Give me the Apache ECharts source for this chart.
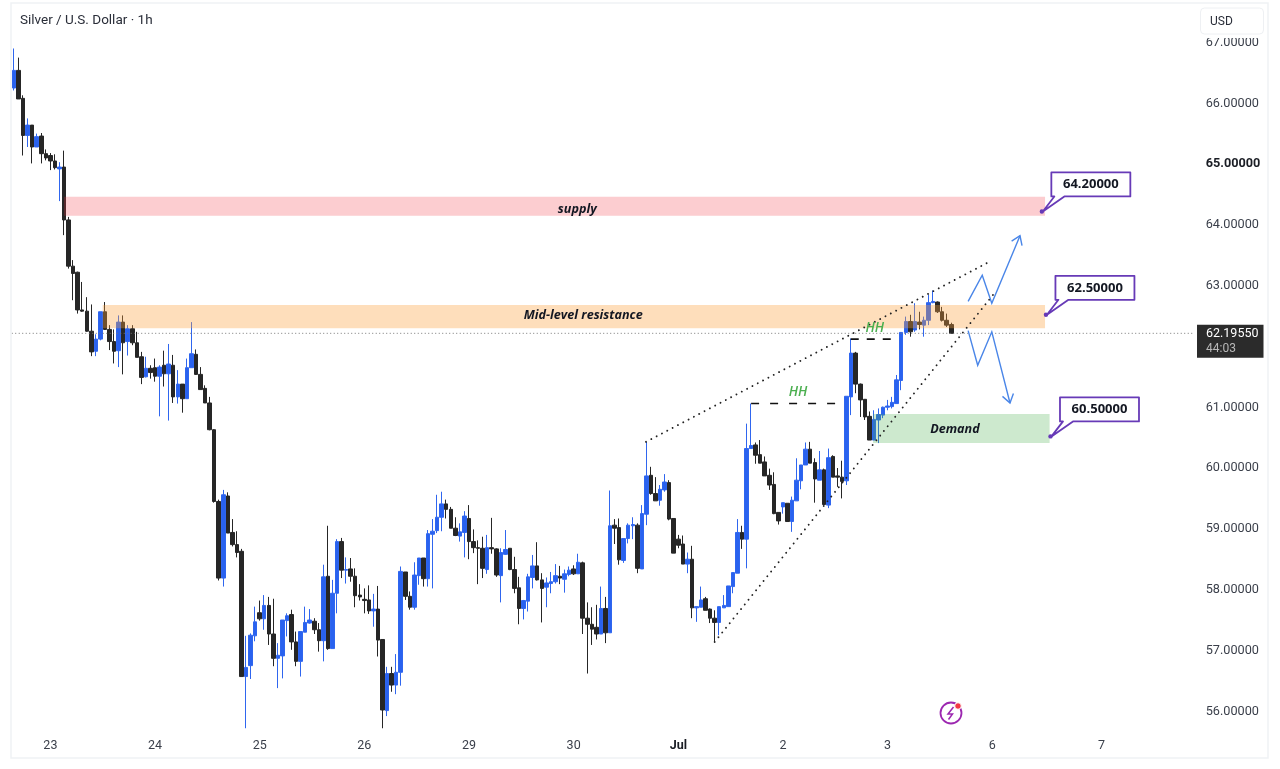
<!DOCTYPE html>
<html><head><meta charset="utf-8">
<style>html,body{margin:0;padding:0;background:#fff}#c{width:1280px;height:769px}</style>
<script src="https://cdn.jsdelivr.net/npm/echarts@6/dist/echarts.min.js"></script>
</head><body><div id="c"></div>
<script>
const opens=[66.23,66.52,66.06,65.45,65.62,65.26,65.44,65.15,65.12,65.03,
64.90,64.93,64.06,63.30,63.20,62.58,62.56,62.23,61.90,62.10,
62.55,62.26,62.06,61.91,62.38,62.06,62.27,62.04,61.81,61.48,
61.62,61.63,61.49,61.67,61.53,61.67,61.15,61.36,61.12,61.63,
61.85,61.52,61.29,61.05,60.61,59.43,58.17,59.52,58.92,58.72,
58.61,56.55,56.73,57.22,57.60,57.50,57.72,57.25,56.85,56.89,
57.47,57.57,57.12,56.80,57.28,57.43,57.46,57.32,57.14,58.20,
57.01,57.92,58.77,58.30,58.32,58.20,57.89,57.82,57.81,57.63,
57.66,57.16,55.99,56.60,56.41,56.62,58.27,57.87,57.69,58.21,
58.50,58.16,58.89,58.95,59.17,59.39,59.30,58.99,58.86,58.92,
59.15,58.77,58.67,58.66,58.31,58.67,58.65,58.21,58.56,58.66,
58.31,58.01,57.67,57.79,58.18,58.37,58.14,58.02,58.08,58.11,
58.20,58.15,58.23,58.32,58.24,58.42,57.51,57.41,57.36,57.25,
57.67,57.27,59.04,59.00,58.46,58.82,59.03,59.04,58.32,59.22,
59.86,59.56,59.45,59.62,59.74,59.15,58.81,58.73,58.40,58.48,
57.68,57.69,57.83,57.66,57.51,57.44,57.68,57.70,58.03,58.25,
58.92,58.81,60.30,60.36,60.20,60.08,59.86,59.71,59.25,59.34,
59.40,59.10,59.44,59.77,60.03,60.29,60.07,59.78,59.95,59.37,
60.17,59.85,59.83,59.77,61.15,61.87,61.36,61.11,60.83,60.44,
60.77,60.85,60.98,60.99,61.04,61.42,62.21,62.39,62.25,62.38,
62.33,62.41,62.70,62.71,62.55,62.41,62.34];
const closes=[66.52,66.05,65.45,65.62,65.26,65.43,65.15,65.08,65.03,64.92,
64.93,64.06,63.30,63.18,62.58,62.56,62.23,61.89,62.10,62.55,
62.26,62.06,61.90,62.38,62.04,62.27,62.04,61.80,61.47,61.62,
61.55,61.49,61.64,61.53,61.69,61.15,61.36,61.12,61.63,61.86,
61.52,61.27,61.05,60.61,59.43,58.17,59.54,58.91,58.72,58.59,
56.55,56.70,57.23,57.45,57.50,57.72,57.25,56.85,56.90,57.48,
57.55,57.12,56.80,57.29,57.44,57.48,57.32,57.14,58.19,57.01,
57.92,58.77,58.30,58.31,58.20,57.88,57.86,57.80,57.63,57.66,
57.15,56.00,56.60,56.41,56.62,58.28,57.87,57.69,58.22,58.50,
58.16,58.90,58.94,59.17,59.39,59.30,58.99,58.87,58.93,59.19,
58.77,58.67,58.66,58.33,58.67,58.65,58.22,58.59,58.64,58.31,
58.00,57.67,57.80,58.19,58.37,58.14,58.00,58.09,58.11,58.21,
58.17,58.24,58.30,58.24,58.43,57.51,57.41,57.33,57.25,57.67,
57.27,59.03,58.99,58.47,58.82,59.04,59.05,58.33,59.23,59.85,
59.56,59.44,59.63,59.75,59.14,58.58,58.71,58.40,58.48,57.68,
57.70,57.81,57.64,57.51,57.44,57.70,57.72,58.04,58.26,58.92,
58.81,60.30,60.35,60.19,60.06,59.85,59.70,59.23,59.11,59.41,
59.10,59.45,59.78,60.03,60.29,60.06,59.80,59.95,59.38,60.15,
59.83,59.83,59.76,61.16,61.87,61.36,61.10,60.82,60.44,60.78,
60.86,60.98,61.00,61.06,61.43,62.21,62.39,62.22,62.39,62.34,
62.41,62.70,62.72,62.55,62.41,62.33,62.1955];
const lows=[66.19,66.05,65.12,65.26,64.99,65.26,64.99,65.04,64.88,64.89,
64.37,63.81,63.26,62.74,62.52,62.55,62.22,61.82,61.82,62.08,
62.25,61.92,61.70,61.64,61.52,61.83,62.00,61.80,61.36,61.47,
61.45,61.40,60.83,61.32,60.76,61.05,61.04,60.89,61.12,61.63,
61.51,61.27,61.05,60.60,59.41,58.13,58.03,58.91,58.69,58.51,
56.55,55.70,56.51,57.13,57.47,57.32,57.07,56.72,56.36,56.52,
57.21,56.99,56.72,56.55,57.28,57.42,57.25,56.96,56.80,56.99,
57.01,57.59,58.17,58.08,58.11,57.69,57.80,57.59,57.58,57.37,
56.88,55.70,55.90,56.30,56.26,56.40,57.81,57.65,57.65,58.06,
58.03,58.03,58.00,58.91,58.94,59.15,58.99,58.86,58.77,58.51,
58.48,58.58,58.07,58.17,58.24,58.57,58.19,57.77,58.55,58.30,
57.92,57.41,57.49,57.62,58.00,58.13,57.44,57.69,57.92,58.08,
58.07,57.93,58.20,58.22,58.24,57.25,56.60,57.07,57.16,57.25,
57.10,57.27,58.73,58.39,58.42,58.74,58.81,58.25,58.32,59.04,
59.54,59.44,59.36,59.59,59.12,58.58,58.66,58.40,58.25,57.51,
57.45,57.69,57.64,57.43,57.12,57.23,57.68,57.70,57.92,58.25,
58.65,58.33,60.30,60.05,60.06,59.85,59.62,59.22,59.05,59.23,
59.10,58.93,59.44,59.63,60.03,60.06,59.41,59.78,59.38,59.32,
59.83,59.67,59.48,59.70,60.85,61.21,60.82,60.77,60.44,60.44,
60.39,60.80,60.93,60.96,61.04,61.26,62.17,62.14,62.22,62.26,
62.14,62.33,62.69,62.53,62.39,62.30,62.1955];
const highs=[66.88,66.73,66.11,65.73,65.62,65.48,65.49,65.22,65.16,65.14,
65.01,65.20,64.11,63.40,63.21,63.04,62.79,62.67,62.18,62.55,
62.71,62.33,62.26,62.49,62.49,62.33,62.33,62.22,61.89,61.81,
61.67,61.78,61.67,61.91,62.02,61.84,61.59,61.36,61.78,62.38,
61.93,61.64,61.34,61.15,60.62,59.46,59.62,59.58,59.14,58.94,
58.65,57.22,57.26,57.70,57.80,57.89,57.86,57.83,57.10,57.48,
57.59,57.65,57.29,57.29,57.70,57.66,57.51,57.43,58.39,59.03,
58.14,58.81,58.83,58.51,58.50,58.33,58.07,58.00,58.05,57.91,
58.04,57.16,56.71,56.71,56.92,58.36,58.27,57.95,58.43,58.50,
58.50,58.96,59.14,59.54,59.59,59.46,59.34,59.17,59.07,59.27,
59.37,58.97,58.79,58.85,58.88,59.16,58.66,58.66,58.96,58.66,
58.52,58.19,57.81,58.24,58.55,58.76,58.25,58.18,58.27,58.40,
58.37,58.31,58.36,58.38,58.57,58.44,57.77,57.69,57.73,58.03,
57.86,59.61,59.14,59.15,58.82,59.07,59.17,59.07,59.37,60.41,
60.00,59.83,59.70,59.88,59.78,59.15,58.88,58.87,58.59,58.70,
57.70,58.03,57.86,57.67,57.64,57.70,57.89,58.04,58.26,59.14,
59.03,60.71,61.04,60.40,60.44,60.17,59.97,59.91,59.25,59.41,
59.40,59.51,60.14,60.03,60.40,60.41,60.14,60.26,59.97,60.30,
60.19,59.98,60.10,61.16,62.11,61.89,61.37,61.11,60.91,60.93,
60.96,60.99,61.10,61.15,61.51,62.21,62.47,62.50,62.69,62.55,
62.47,62.83,62.90,62.72,62.63,62.52,62.37];

const barSlots=260;
const dayLabels=['23','24','25','26','29','30','Jul','2','3','6','7'];
const dayIndexes=[8,31,54,77,100,123,146,169,192,215,239];
const lastPrice=62.1955, lastPriceText='62.19550', countdown='44:03';

const bandNames=['supply','Mid-level resistance','Demand'];
const bandStart=[11,19.5,188.8];
const bandEnd=[226.6,226.6,227.6];
const bandTop=[64.44,62.66,60.87];
const bandBottom=[64.13,62.28,60.39];
const bandFill=['rgba(242,54,69,.25)','rgba(251,160,60,.35)','rgba(76,175,80,.28)'];
const bandLabelAt=[123.8,125.1,206.8];
const bandLabelPrice=[64.24,62.49,60.61];

const wedgeUpperX=[138.9,213.8], wedgeUpperY=[60.41,63.35];
const wedgeLowerX=[154,215.2], wedgeLowerY=[57.12,62.83];
const hhLineX=[[162,182.6],[183.9,194.3]], hhLineY=[61.04,62.10];
const hhLabelX=[172.3,189.2], hhLabelY=[61.23,62.28];
const arrowUpX=[209.7,212.8,214.9,221.1], arrowUpY=[62.72,63.15,62.69,63.80];
const arrowDownX=[209.7,211.8,214.9,218.9], arrowDownY=[62.24,61.67,62.22,61.05];
const calloutX=[225.9,226.8,227.8], calloutY=[64.2,62.5,60.5];
const calloutText=['64.20000','62.50000','60.50000'];

const categories=Array.from({length:barSlots},(_,i)=>{const k=dayIndexes.indexOf(i);return k<0?'':dayLabels[k];});
const candles=opens.map((o,i)=>[o,closes[i],lows[i],highs[i]]);
const UI='Roboto, "Noto Sans", sans-serif';

function layer(items,draw,z){
  return {type:'custom',coordinateSystem:'cartesian2d',xAxisIndex:1,yAxisIndex:0,silent:true,clip:false,z:z||5,
    encode:{x:0,y:1},data:items.map(it=>[it.x,it.y]),animation:false,
    renderItem:(p,api)=>draw(items[p.dataIndex],api)};
}
function pts(xs,ys,api){return xs.map((x,i)=>api.coord([x,Array.isArray(ys)?ys[i]:ys]));}
function poly(points,style){return {type:'polyline',shape:{points},style:Object.assign({fill:null},style)};}

const bandItems=bandNames.map((n,i)=>({x:bandStart[i],y:bandTop[i],i}));
const bandLayer=layer(bandItems,(b,api)=>{
  const i=b.i,a=api.coord([bandStart[i],bandTop[i]]),c=api.coord([bandEnd[i],bandBottom[i]]);
  const m=api.coord([bandLabelAt[i],bandLabelPrice[i]]);
  return {type:'group',children:[
    {type:'rect',shape:{x:a[0],y:a[1],width:c[0]-a[0],height:c[1]-a[1]},style:{fill:bandFill[i]}},
    {type:'text',x:m[0],y:m[1],style:{text:bandNames[i],font:'italic bold 12.6px "Open Sans", sans-serif',fill:'#131722',align:'center',verticalAlign:'middle'}}
  ]};
},5);

const dots={stroke:'#222',lineWidth:1.9,lineDash:[0.01,6],lineCap:'round'};
const lineItems=[
 {x:wedgeUpperX[0],y:wedgeUpperY[0],xs:wedgeUpperX,ys:wedgeUpperY,st:dots},
 {x:wedgeLowerX[0],y:wedgeLowerY[0],xs:wedgeLowerX,ys:wedgeLowerY,st:dots},
 {x:hhLineX[0][0],y:hhLineY[0],xs:hhLineX[0],ys:hhLineY[0],st:{stroke:'#111',lineWidth:1.6,lineDash:[8,11]}},
 {x:hhLineX[1][0],y:hhLineY[1],xs:hhLineX[1],ys:hhLineY[1],st:{stroke:'#111',lineWidth:1.6,lineDash:[8,8]}}
];
const lineLayer=layer(lineItems,(l,api)=>poly(pts(l.xs,l.ys,api),l.st),6);

const arrowItems=[{x:arrowUpX[0],y:arrowUpY[0],xs:arrowUpX,ys:arrowUpY},{x:arrowDownX[0],y:arrowDownY[0],xs:arrowDownX,ys:arrowDownY}];
const arrowLayer=layer(arrowItems,(l,api)=>{
  const p=pts(l.xs,l.ys,api),e=p[p.length-1],s=p[p.length-2];
  const ang=Math.atan2(e[1]-s[1],e[0]-s[0]),h=10,w=0.6;
  const w1=[e[0]-h*Math.cos(ang-w),e[1]-h*Math.sin(ang-w)],w2=[e[0]-h*Math.cos(ang+w),e[1]-h*Math.sin(ang+w)];
  const st={stroke:'#4a86e8',lineWidth:1.4,lineJoin:'miter'};
  return {type:'group',children:[poly(p,st),poly([w1,e,w2],st)]};
},6);

const hhItems=hhLabelX.map((x,i)=>({x,y:hhLabelY[i]}));
const hhLayer=layer(hhItems,(h,api)=>{const c=api.coord([h.x,h.y]);
  return {type:'text',x:c[0],y:c[1],style:{text:'HH',font:'italic 600 13.5px "Open Sans", sans-serif',fill:'#4caf50',align:'center',verticalAlign:'middle'}};},7);

const calloutItems=calloutX.map((x,i)=>({x,y:calloutY[i],t:calloutText[i]}));
const calloutLayer=layer(calloutItems,(c,api)=>{
  const p=api.coord([c.x,c.y]),x=p[0],y=p[1];
  const L=x+9.5,R=x+88.5,T=y-39,B=y-15;
  return {type:'group',children:[
    {type:'polygon',shape:{points:[[L,T],[R,T],[R,B],[L+13,B],[x+1,y],[L+3,B],[L,B]]},
     style:{fill:'#fff',stroke:'#673ab7',lineWidth:1.8,lineJoin:'round'}},
    {type:'circle',shape:{cx:x,cy:y,r:2.2},style:{fill:'#673ab7'}},
    {type:'text',x:(L+R)/2,y:(T+B)/2,style:{text:c.t,font:'bold 13px "Open Sans", sans-serif',fill:'#131722',align:'center',verticalAlign:'middle'}}
  ]};
},8);

const lastLayer=layer([{x:-0.5,y:lastPrice}],(l,api)=>{
  const a=api.coord([-0.5,lastPrice]),b=api.coord([barSlots-0.5,lastPrice]);
  const y=a[1];
  return {type:'group',children:[
    poly([a,b],{stroke:'#777',lineWidth:1,lineDash:[1,2.5]}),
    {type:'rect',shape:{x:1197,y:y-8.5,width:66.5,height:33},style:{fill:'#2b2b2b'}},
    {type:'text',x:1206,y:y+1,style:{text:lastPriceText,font:'12.5px Roboto, sans-serif',fill:'#fff',align:'left',verticalAlign:'middle'}},
    {type:'text',x:1206,y:y+16,style:{text:countdown,font:'12px Roboto, sans-serif',fill:'#b8b8b8',align:'left',verticalAlign:'middle'}}
  ]};
},4);

const chart=echarts.init(document.getElementById('c'),null,{renderer:'canvas'});
chart.setOption({
  animation:false,backgroundColor:'#fff',
  title:{text:'Silver / U.S. Dollar · 1h',left:15,top:9,textStyle:{fontFamily:UI,fontSize:13.5,fontWeight:'normal',color:'#2a2e39'}},
  grid:{left:11.725,top:10.8,width:1183,height:729.6,containLabel:false},
  xAxis:[
   {type:'category',data:categories,boundaryGap:true,axisLine:{show:false},axisTick:{show:false},splitLine:{show:false},
    axisLabel:{show:true,interval:0,margin:-1,hideOverlap:false,color:'#3a3f4a',fontFamily:UI,fontSize:12.5,
      formatter:v=>v==='Jul'?'{b|Jul}':v,rich:{b:{fontWeight:'bold',fontFamily:UI,fontSize:12.5,color:'#1a1d24'}}}},
   {type:'value',min:-0.5,max:barSlots-0.5,show:false,splitLine:{show:false}}
  ],
  yAxis:{type:'value',position:'right',min:55.5,max:67.5,interval:0.5,scale:true,axisLine:{show:false},axisTick:{show:false},splitLine:{show:false},
    axisLabel:{margin:11,color:'#3a3f4a',fontFamily:UI,fontSize:12.7,align:'left',padding:[3,0,0,0],showMinLabel:false,showMaxLabel:false,
      formatter:v=>Number.isInteger(v)?(v===65?'{b|65.00000}':v.toFixed(5)):'',
      rich:{b:{fontWeight:'bold',fontFamily:UI,fontSize:12.7,color:'#1a1d24'}}}},
  series:[
    {type:'candlestick',data:candles,xAxisIndex:0,yAxisIndex:0,barWidth:4,z:3,silent:true,clip:false,
     itemStyle:{color:'#2962ef',color0:'#262626',borderColor:'#2f66ef',borderColor0:'#262626',borderWidth:1}},
    lastLayer,bandLayer,lineLayer,arrowLayer,hhLayer,calloutLayer
  ],
  graphic:[
    {type:'rect',z:100,silent:true,shape:{x:11,y:3,width:1257,height:755},style:{fill:null,stroke:'#f0f2f5',lineWidth:1.5}},
    {type:'rect',z:100,shape:{x:1199,y:6,width:66,height:32},style:{fill:'#fff'}},
    {type:'rect',z:101,shape:{x:1200.5,y:8,width:63,height:26,r:4},style:{fill:'#fff',stroke:'#eef0f3',lineWidth:1}},
    {type:'text',z:102,x:1210,y:22,style:{text:'USD',font:'12px '+UI,fill:'#2a2e39',verticalAlign:'middle'}},
    {type:'group',z:100,x:951,y:713,children:[
      {type:'circle',shape:{cx:0,cy:0,r:10.5},style:{fill:'#fff',stroke:'#9c27b0',lineWidth:1.8}},
      {type:'polyline',shape:{points:[[2.5,-6],[-3,1],[1.5,1],[-2.5,6.5]]},style:{fill:null,stroke:'#9c27b0',lineWidth:1.5}},
      {type:'circle',shape:{cx:7,cy:-7,r:3.3},style:{fill:'#f23645',stroke:'#fff',lineWidth:1}}
    ]}
  ]
});
</script></body></html>
